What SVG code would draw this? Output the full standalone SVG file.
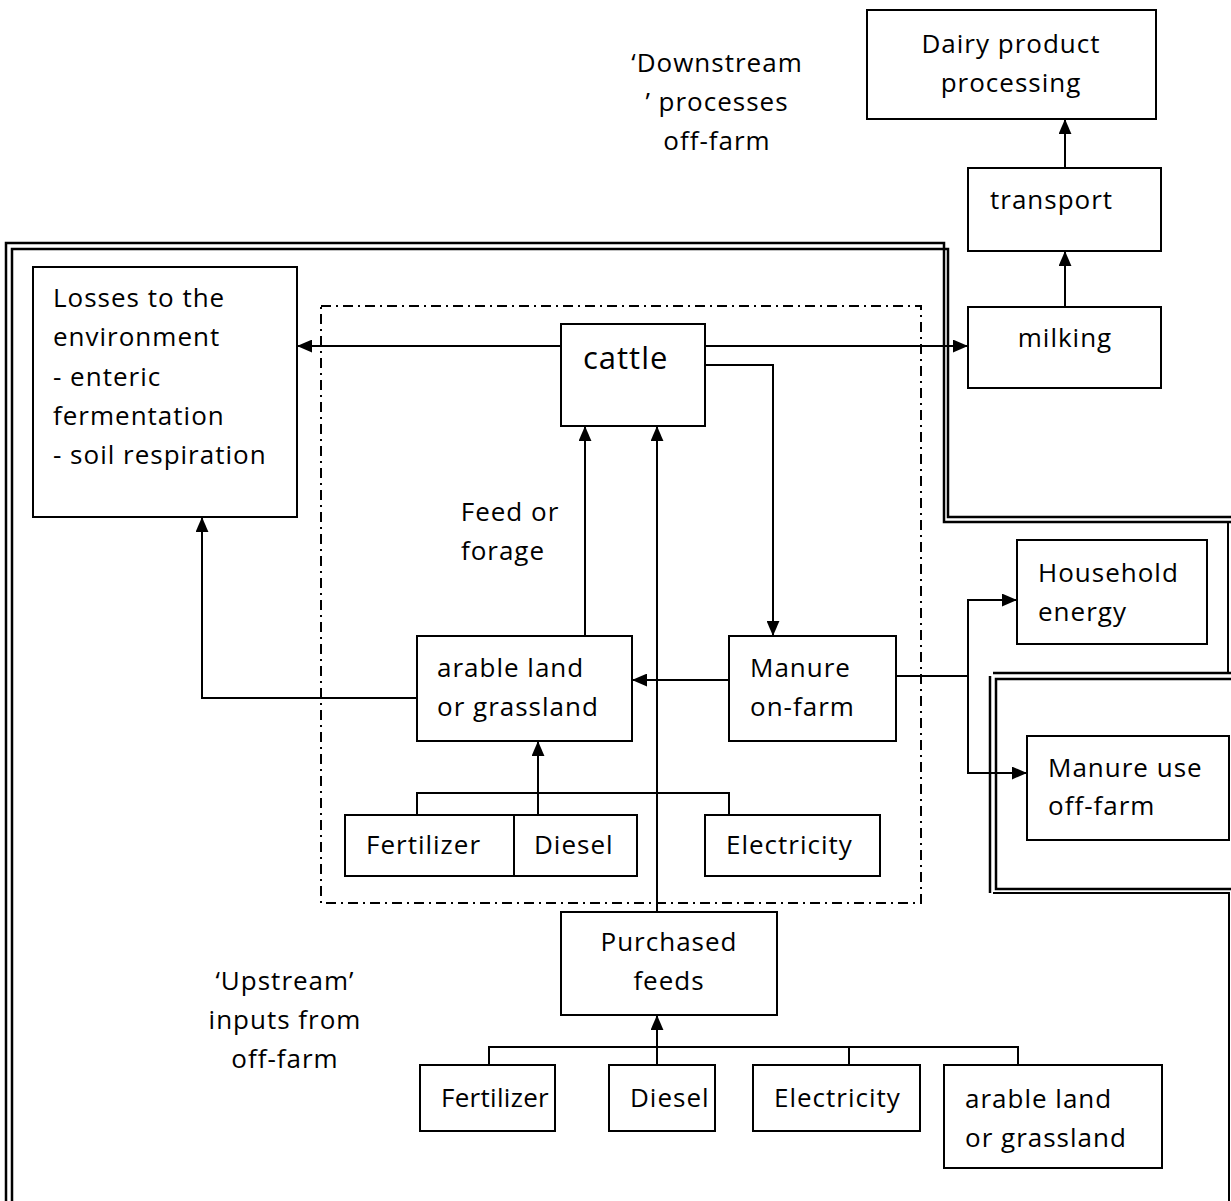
<svg xmlns="http://www.w3.org/2000/svg" width="1231" height="1201" viewBox="0 0 1231 1201">
<style>
.box{fill:#fff;stroke:#000;stroke-width:2}
.t{font-family:"Open Sans","Noto Sans",sans-serif;font-size:26px;letter-spacing:1px;fill:#000}
.c{text-anchor:middle}
.ln{fill:none;stroke:#000;stroke-width:2}
.b{fill:none;stroke:#000;stroke-width:2.5}
.dd{fill:none;stroke:#000;stroke-width:2;stroke-dasharray:10 5 2 5}
</style>
<defs>
<marker id="ah" viewBox="0 0 14 12" refX="14" refY="6" markerWidth="15" markerHeight="13" markerUnits="userSpaceOnUse" orient="auto">
<path d="M0,0 L14,6 L0,12 Z" fill="#000"/>
</marker>
</defs>
<g id="boundaries">
<path class="b" d="M6,1201 V243 H944 V522 H1231"/>
<path class="b" d="M12,1201 V249 H948 V517 H1231"/>
<path class="ln" d="M1228,522 V673"/>
<path class="b" d="M1231,673 H993"/>
<path class="b" d="M1231,679 H996 V889 H1231"/>
<path class="b" d="M990,676 V893"/>
<path class="ln" d="M993,893 H1229 V1201"/>
<rect class="dd" x="321" y="306" width="600" height="597"/>
</g>
<g id="connectors">
<path class="ln" d="M561,346 H297" marker-end="url(#ah)"/>
<path class="ln" d="M705,346 H968" marker-end="url(#ah)"/>
<path class="ln" d="M705,365 H773 V636" marker-end="url(#ah)"/>
<path class="ln" d="M729,680 H632" marker-end="url(#ah)"/>
<path class="ln" d="M585,636 V426" marker-end="url(#ah)"/>
<path class="ln" d="M657,912 V426" marker-end="url(#ah)"/>
<path class="ln" d="M417,698 H202 V517" marker-end="url(#ah)"/>
<path class="ln" d="M896,676 H968"/>
<path class="ln" d="M968,676 V600 H1017" marker-end="url(#ah)"/>
<path class="ln" d="M968,676 V773 H1027" marker-end="url(#ah)"/>
<path class="ln" d="M417,815 V793 H729 V815"/>
<path class="ln" d="M538,815 V741" marker-end="url(#ah)"/>
<path class="ln" d="M489,1065 V1047 H1018 V1065"/>
<path class="ln" d="M849,1047 V1065"/>
<path class="ln" d="M657,1065 V1015" marker-end="url(#ah)"/>
<path class="ln" d="M1065,307 V251" marker-end="url(#ah)"/>
<path class="ln" d="M1065,168 V119" marker-end="url(#ah)"/>
</g>
<g id="dairy"><rect class="box" x="867" y="10" width="289" height="109"/><text class="t c" x="1011" y="53">Dairy product</text><text class="t c" x="1011" y="92">processing</text></g>
<g id="transport"><rect class="box" x="968" y="168" width="193" height="83"/><text class="t" x="990" y="209">transport</text></g>
<g id="milking"><rect class="box" x="968" y="307" width="193" height="81"/><text class="t c" x="1065" y="347">milking</text></g>
<g id="losses"><rect class="box" x="33" y="267" width="264" height="250"/>
<text class="t" x="53" y="307">Losses to the</text><text class="t" x="53" y="346">environment</text><text class="t" x="53" y="386">- enteric</text><text class="t" x="53" y="425">fermentation</text><text class="t" x="53" y="464">- soil respiration</text></g>
<g id="cattle"><rect class="box" x="561" y="324" width="144" height="102"/><text class="t" x="583" y="369" style="font-size:31px">cattle</text></g>
<g id="arable"><rect class="box" x="417" y="636" width="215" height="105"/><text class="t" x="437" y="677">arable land</text><text class="t" x="437" y="716">or grassland</text></g>
<g id="manure"><rect class="box" x="729" y="636" width="167" height="105"/><text class="t" x="750" y="677">Manure</text><text class="t" x="750" y="716">on-farm</text></g>
<g id="fert1"><rect class="box" x="345" y="815" width="169" height="61"/><text class="t" x="366" y="854">Fertilizer</text></g>
<g id="diesel1"><rect class="box" x="514" y="815" width="123" height="61"/><text class="t" x="534" y="854">Diesel</text></g>
<g id="elec1"><rect class="box" x="705" y="815" width="175" height="61"/><text class="t" x="726" y="854">Electricity</text></g>
<g id="purchased"><rect class="box" x="561" y="912" width="216" height="103"/><text class="t c" x="669" y="951">Purchased</text><text class="t c" x="669" y="990">feeds</text></g>
<g id="household"><rect class="box" x="1017" y="540" width="190" height="104"/><text class="t" x="1038" y="582">Household</text><text class="t" x="1038" y="621">energy</text></g>
<g id="manureuse"><rect class="box" x="1027" y="736" width="202" height="104"/><text class="t" x="1048" y="777">Manure use</text><text class="t" x="1048" y="815">off-farm</text></g>
<g id="fert2"><rect class="box" x="420" y="1065" width="135" height="66"/><text class="t" x="441" y="1107" style="letter-spacing:0.3px">Fertilizer</text></g>
<g id="diesel2"><rect class="box" x="609" y="1065" width="106" height="66"/><text class="t" x="630" y="1107">Diesel</text></g>
<g id="elec2"><rect class="box" x="753" y="1065" width="167" height="66"/><text class="t" x="774" y="1107">Electricity</text></g>
<g id="arable2"><rect class="box" x="944" y="1065" width="218" height="103"/><text class="t" x="965" y="1108">arable land</text><text class="t" x="965" y="1147">or grassland</text></g>
<g id="labels">
<text class="t c" x="717" y="72">‘Downstream</text><text class="t c" x="717" y="111">’ processes</text><text class="t c" x="717" y="150">off-farm</text>
<text class="t c" x="510" y="521">Feed or</text><text class="t c" x="503" y="560">forage</text>
<text class="t c" x="285" y="990">‘Upstream’</text><text class="t c" x="285" y="1029">inputs from</text><text class="t c" x="285" y="1068">off-farm</text>
</g>
</svg>
